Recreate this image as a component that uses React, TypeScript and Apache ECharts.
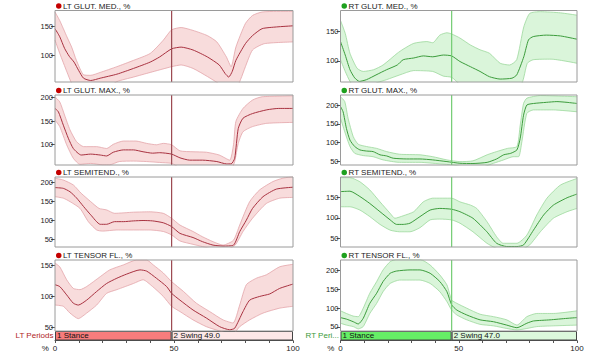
import React, { useEffect, useRef } from "react";
import * as echarts from "echarts";

// ---------- data ----------
const ltTitles = ["LT GLUT. MED., %", "LT GLUT. MAX., %", "LT SEMITEND., %", "LT TENSOR FL., %"];
const rtTitles = ["RT GLUT. MED., %", "RT GLUT. MAX., %", "RT SEMITEND., %", "RT TENSOR FL., %"];
const ltStanceEnd = 49.0;
const rtStanceEnd = 47.0;
const ltPeriodLabel = "LT Periods";
const rtPeriodLabel = "RT Peri...";
const xTickLabels = [0, 50, 100];

const ltYMin = [53.4, 55.6, 29, 44];
const ltYMax = [177.6, 205.8, 214, 159];
const ltYTicks = [[100, 150], [100, 150, 200], [50, 100, 150, 200], [50, 100, 150]];
const rtYMin = [64, 41, 28.9, 39.3];
const rtYMax = [186, 226.5, 199.6, 228.4];
const rtYTicks = [[100, 150], [50, 100, 150, 200], [50, 100, 150], [50, 100, 150, 200]];

// LT GLUT. MED.
const ltGlutMedMean = [[0,146],[2,132],[4,112],[6,98],[8,88],[10,73],[12,60],[15,56],[19,60],[26,67],[33,77],[40,88],[44,97],[49,111],[53,114],[58,109],[64,97],[69,83],[71.5,68],[73,62],[74.5,72],[76,91],[80,120],[83,134],[87,146],[93,149],[100,151]];
const ltGlutMedUpper = [[0,175],[2,160],[5,132],[7,114],[9,91],[12,66],[15,65],[19,70],[26,80],[33,91],[40,103],[45.5,126],[49,144],[53,148],[58,143],[64,134],[68,123],[72,97],[74,80],[76,114],[80,155],[83,169],[87,175],[93,176],[100,176]];
const ltGlutMedLower = [[0,126],[2,103],[5,71],[7,51],[9,40],[15,30],[20,38],[26,54],[33,62],[40,70],[49,80],[53,83],[58,77],[64,63],[69,50],[72,40],[76,42],[78,58],[80,80],[83,109],[88,120],[100,123]];
// RT GLUT. MED.
const rtGlutMedMean = [[0,133],[2,110],[4,85],[6,71],[8,65],[11,68],[15,76],[19.5,85],[24,93],[26.5,102],[31,105],[35,108.5],[39,107],[43.5,110],[47,108.5],[50.5,99],[55,90],[59,82],[63,73],[67.5,69],[72.5,70.5],[74.5,76],[77.5,107],[79.5,136],[81.5,141.5],[87,144],[93,142.6],[100,137]];
const rtGlutMedUpper = [[0,169],[2,147],[4,113],[7,87.5],[9.6,82],[14,85],[18,93],[24,113],[26.5,120],[31,130],[36.5,133],[39,131],[42,144],[45,148],[47,146],[50.5,139],[55,127],[59,119],[63,113],[67.5,96],[71.5,93],[74.5,102],[77.5,158],[80,181],[84.5,184],[93,182],[100,178]];
const rtGlutMedLower = [[0,102],[2,82],[4,65],[6,55],[10,52],[15,62],[19.5,68],[25,76],[31,83.5],[39,82],[43.5,74],[47,72],[50.5,60],[55,52],[65,48],[72,50],[76.7,62],[79,96],[81.5,102],[89,103],[100,96]];
// LT GLUT. MAX.
const ltGlutMaxMean = [[0,177],[1.4,170],[3.5,141],[5.6,113],[7.7,91],[11,77],[15,79],[19,77],[21.7,75],[24.5,83],[28.7,88],[33,88],[37,84],[41,81],[44,82],[49,79],[52.5,71],[56.6,66],[62,66],[68,63],[72,58],[74,58],[75.5,70],[77,134],[79,156],[83,166],[89,174],[94,177],[100,177]];
const ltGlutMaxUpper = [[0,202],[2,191],[4,163],[6.3,131],[9,106],[12,95],[17.5,95],[21.7,91],[24.5,100],[28.7,107],[34,107],[38.5,102],[42.6,99],[45.5,102],[49,99],[52.5,86],[58,84],[63.6,83],[69,77],[73.4,66],[75,99],[76,149],[79,177],[83,195],[87,202],[100,204]];
const ltGlutMaxLower = [[0,152],[2,138],[4.9,99],[7.7,70],[10.5,57],[15,59],[20,56],[23,56],[27,63],[33,64],[38.5,63],[44,61],[49,59],[52.5,50],[60,45],[70,44],[74,46],[75.5,63],[77,102],[79,127],[83,138],[89,145],[100,147]];
// RT GLUT. MAX.
const rtGlutMaxMean = [[0,196],[1.1,182],[2.5,138],[4,107],[6,90],[8.2,81],[11,78],[13.8,76.5],[16.7,68],[19.5,65],[22.3,59],[28,57],[33.6,57],[39,54.5],[45,50],[50.5,45.6],[56,45],[62,48],[66,57],[69,68],[72,72],[74.6,81],[76,112],[77.4,173],[78.8,200],[81.6,204],[87,207],[91.5,209],[95.8,207],[100,204]];
const rtGlutMaxUpper = [[0,222],[1.8,209],[3.2,165],[5.4,116],[7.5,96],[11,90],[15.3,85],[19.5,76.5],[25,69.5],[33.6,68],[39,63],[45,54.5],[50.5,50],[56,52],[62,68],[66,76.5],[70.6,85],[74.6,90],[76,147],[77.4,204],[78.8,218],[84.5,225],[100,222]];
const rtGlutMaxLower = [[0,165],[1.8,129],[4,90],[6,72],[9.6,66],[13.8,63],[18,54.5],[25,48],[33.6,48],[42,44],[47.7,41],[52,36],[60,36],[64.7,45.6],[69,54.5],[73,63],[75.3,63],[76.7,103],[78.8,178],[81.6,187],[90,187],[100,182]];
// LT SEMITEND.
const ltSemitendMean = [[0,186],[3.5,184],[6.3,175],[9,159],[12,136],[15,114],[19,89],[21.7,89],[25,96],[28.7,96],[33,98],[37,99],[41,98],[45.5,93],[49,83],[52.5,65],[58,54],[62,43],[66.4,34],[70.6,31.5],[75,34],[77.6,69.5],[80.4,100],[83,131],[87.4,162],[93,182],[100,187]];
const ltSemitendUpper = [[0,211],[3.5,206],[7.7,193],[11,171],[15,149],[18.5,131],[21.7,127],[25,118],[33,121],[40,122],[45.5,118],[49,105],[52.5,87],[58,70],[62,56],[66.4,43],[70.6,34],[75,47],[77.6,87],[81.8,149],[86,180],[91.6,202],[95.8,211],[100,215]];
const ltSemitendLower = [[0,162],[3.5,158],[6.3,149],[10.5,131],[14,96],[17.5,74],[20,71],[26,74],[33,74],[40,74],[45.5,70],[49,61],[52.5,45],[58,36],[62,30],[66,24],[72,22],[75.7,34],[79,70],[83,105],[88.8,144],[94.4,158],[100,160]];
// RT SEMITEND.
const rtSemitendMean = [[0,164],[4,165],[8.2,152],[12.4,135],[16.7,115],[21,95],[23.7,84],[26.5,84],[29.4,87],[33.6,103],[37.9,119],[42,123],[47,121],[50.5,115],[56,99],[61.9,66],[66,38],[70.3,30],[74.6,30],[77.4,34],[81.6,70],[85.9,107],[90,131],[95.8,149],[100,158]];
const rtSemitendUpper = [[0,198],[4,198],[8.2,188],[12.4,168],[16.7,139],[21,111],[23,99],[26.5,105],[31,115],[35,139],[39,148],[47,148],[50.5,139],[55,131],[57.6,123],[61.9,91],[66,54],[68.8,38],[74.6,38],[78.8,58],[83,107],[87.3,148],[93,180],[100,196]];
const rtSemitendLower = [[0,127],[4,127],[8.2,119],[12.4,103],[16.7,84],[21,70],[25,66],[29.4,66],[33.6,76],[37.9,95],[42,97],[47,95],[50.5,87],[56,66],[61.9,38],[64.7,29],[68,22],[76,22],[80,34],[84.5,66],[90,99],[95.8,115],[100,123]];
// LT TENSOR FL.
const ltTensorMean = [[0,119],[2,116],[4.9,102.5],[7.7,89],[9.8,86],[13.3,94],[17.5,108],[21.7,121],[26,129.5],[30,136],[35.7,143],[38.5,141],[42.6,129.5],[46.9,116],[49,105],[52.5,94],[58,78],[63.6,65],[69.2,51],[73.4,46],[75.5,48.5],[79,75.5],[81.8,94],[86,100],[90.2,104],[94.4,113],[100,120]];
const ltTensorUpper = [[0,154],[2,148],[4.9,127],[7.7,113],[10.5,111],[13.3,116],[19,132],[23,143],[28.7,151],[34.3,159],[38.5,159],[41.3,151],[45.5,138],[49,124],[54,108],[59.4,89],[65,75.5],[70.6,62],[74.8,57],[77.6,86],[80.4,119],[84.6,129.5],[88.8,135],[94.4,148],[100,152]];
const ltTensorLower = [[0,86],[3.5,84],[6.3,73],[9.8,64],[13.3,73],[17.5,86],[21.7,105],[26,111],[33,121],[37,127],[41,116],[45.5,100],[49,84],[52.5,75.5],[58,62],[63.6,51],[69.2,44],[73,40],[75,40],[77.6,51],[81.8,62],[87.4,73],[94.4,81],[100,84]];
// RT TENSOR FL.
const rtTensorMean = [[0,75],[2.5,71],[5.4,64],[7.5,58],[9.6,73],[12.4,113],[15.3,140],[18,171],[21,193],[23.7,199],[29.4,202],[33.6,202],[37.9,193],[42,171],[45,144],[47,109],[49.2,95],[53.4,82],[59,69],[64.7,64],[70.3,55],[74.6,48],[78.8,60],[81.6,66],[88.6,69],[95.8,73],[100,75]];
const rtTensorUpper = [[0,93],[2.5,86],[5.4,79],[7.5,77.5],[9.6,100],[12.4,140],[15.3,171],[18,202],[21,224],[23.7,230],[33.6,230],[37.9,215],[42,188.5],[45,162],[47,122],[49.2,113],[53.4,100],[59,84],[64.7,77.5],[70.3,69],[74.6,55],[78.8,77.5],[83,86],[90,86],[100,93]];
const rtTensorLower = [[0,60],[2.5,55],[5.4,51],[7.5,45],[9.6,51],[12.4,86],[15.3,113],[18,144],[21,166],[25,175],[33.6,175],[37.9,166],[42,144],[45,117.5],[47,95],[49.2,82],[53.4,69],[59,57],[64.7,53],[70.3,46],[74.6,42],[78.8,46],[83,51],[90,53],[100,55]];

const ltMeans = [ltGlutMedMean, ltGlutMaxMean, ltSemitendMean, ltTensorMean];
const ltUppers = [ltGlutMedUpper, ltGlutMaxUpper, ltSemitendUpper, ltTensorUpper];
const ltLowers = [ltGlutMedLower, ltGlutMaxLower, ltSemitendLower, ltTensorLower];
const rtMeans = [rtGlutMedMean, rtGlutMaxMean, rtSemitendMean, rtTensorMean];
const rtUppers = [rtGlutMedUpper, rtGlutMaxUpper, rtSemitendUpper, rtTensorUpper];
const rtLowers = [rtGlutMedLower, rtGlutMaxLower, rtSemitendLower, rtTensorLower];

// ---------- layout & style ----------
const FONT = "Arial, 'Liberation Sans', sans-serif";
const rowTops = [10.5, 95, 177, 260];
const rowHeights = [71.5, 70, 70, 71];
const colLefts = [55, 340.5];
const colWidths = [238, 236.5];
const periodHeight = 9.5;

const sides = [
  {
    titles: ltTitles, means: ltMeans, uppers: ltUppers, lowers: ltLowers,
    yMin: ltYMin, yMax: ltYMax, yTicks: ltYTicks, stanceEnd: ltStanceEnd, periodLabel: ltPeriodLabel,
    mean: "#a83240", edge: "#e3a5aa", fill: "#f8dcdc", stanceLine: "#9c4850", dot: "#c40000",
    periodText: "#b01e1e", stanceFill: "#f77c7c", swingFill: "#fde8e8",
  },
  {
    titles: rtTitles, means: rtMeans, uppers: rtUppers, lowers: rtLowers,
    yMin: rtYMin, yMax: rtYMax, yTicks: rtYTicks, stanceEnd: rtStanceEnd, periodLabel: rtPeriodLabel,
    mean: "#3c9c3c", edge: "#9cd89c", fill: "#daf5da", stanceLine: "#72cc72", dot: "#1ea01e",
    periodText: "#3a9a3a", stanceFill: "#66ee66", swingFill: "#dcf8dc",
  },
];

function buildOption() {
  const grid: any[] = [];
  const xAxis: any[] = [];
  const yAxis: any[] = [];
  const series: any[] = [];
  const title: any[] = [];

  sides.forEach((s, c) => {
    for (let r = 0; r < 4; r++) {
      const idx = grid.length;
      grid.push({
        left: colLefts[c], top: rowTops[r], width: colWidths[c], height: rowHeights[r],
        show: true, borderColor: "#9a9a9a", borderWidth: 1, backgroundColor: "transparent", z: 10,
        containLabel: false, outerBoundsMode: "none",
      });
      xAxis.push({ gridIndex: idx, type: "value", min: 0, max: 100, show: false });
      yAxis.push({
        gridIndex: idx, type: "value", min: s.yMin[r], max: s.yMax[r],
        axisLine: { show: false }, splitLine: { show: false },
        axisTick: { show: true, length: 4, customValues: s.yTicks[r], lineStyle: { color: "#555" } },
        axisLabel: { customValues: s.yTicks[r], fontSize: 7.5, color: "#222", margin: 2, fontFamily: FONT },
      });
      title.push({
        left: colLefts[c] + 1, top: rowTops[r] - 9, padding: 0,
        text: `{d|}{t|${s.titles[r]}}`,
        textStyle: {
          fontWeight: "normal",
          rich: {
            d: { width: 5.5, height: 5.5, borderRadius: 3, backgroundColor: s.dot },
            t: { fontSize: 8, fontWeight: "normal", color: "#222", fontFamily: FONT, padding: [0, 0, 0, 1.5], lineHeight: 9 },
          },
        },
      });
      series.push({
        type: "line", xAxisIndex: idx, yAxisIndex: idx, data: s.uppers[r], symbol: "none", smooth: 0.2,
        lineStyle: { color: s.edge, width: 0.8 }, areaStyle: { color: s.fill, opacity: 1, origin: "start" },
        z: 1, silent: true,
      });
      series.push({
        type: "line", xAxisIndex: idx, yAxisIndex: idx, data: s.lowers[r], symbol: "none", smooth: 0.2,
        lineStyle: { color: s.edge, width: 0.8 }, areaStyle: { color: "#ffffff", opacity: 1, origin: "start" },
        z: 2, silent: true,
      });
      series.push({
        type: "line", xAxisIndex: idx, yAxisIndex: idx, data: s.means[r], symbol: "none", smooth: 0.2,
        lineStyle: { color: s.mean, width: 1 }, z: 3, silent: true,
      });
      // stance boundary line
      series.push({
        type: "line", xAxisIndex: idx, yAxisIndex: idx, symbol: "none", silent: true, z: 4,
        data: [[s.stanceEnd, s.yMin[r]], [s.stanceEnd, s.yMax[r]]],
        lineStyle: { color: s.stanceLine, width: 1.2 },
      });
    }
  });

  // period bars
  sides.forEach((s, c) => {
    const idx = grid.length;
    grid.push({
      left: colLefts[c], top: rowTops[3] + rowHeights[3], width: colWidths[c], height: periodHeight,
      show: false, containLabel: false, outerBoundsMode: "none",
    });
    xAxis.push({
      gridIndex: idx, type: "value", min: 0, max: 100, interval: 10,
      axisLine: { show: true, lineStyle: { color: "#555" } },
      axisTick: { show: true, length: 2.5, lineStyle: { color: "#555" } },
      splitLine: { show: false },
      axisLabel: {
        fontSize: 8, color: "#222", margin: 4, fontFamily: FONT,
        formatter: (v: number) => (xTickLabels.indexOf(v) >= 0 ? String(v) : ""),
      },
      name: "%", nameLocation: "start", nameGap: 1,
      nameTextStyle: { fontSize: 8, color: "#222", fontFamily: FONT, verticalAlign: "top", padding: [4, 0, 0, 0] },
    });
    yAxis.push({
      gridIndex: idx, type: "category", data: [s.periodLabel],
      axisLine: { show: false }, axisTick: { show: false },
      axisLabel: { color: s.periodText, fontSize: 8, margin: 1.5, fontFamily: FONT },
    });
    series.push({
      type: "bar", xAxisIndex: idx, yAxisIndex: idx, stack: "p" + c, data: [s.stanceEnd],
      barWidth: "100%", silent: true,
      itemStyle: { color: s.stanceFill, borderColor: "#444", borderWidth: 1 },
      label: { show: true, position: "insideLeft", distance: 2, formatter: "1 Stance", fontSize: 8, color: "#111", fontFamily: FONT },
    });
    series.push({
      type: "bar", xAxisIndex: idx, yAxisIndex: idx, stack: "p" + c, data: [100 - s.stanceEnd],
      barWidth: "100%", silent: true,
      itemStyle: { color: s.swingFill, borderColor: "#444", borderWidth: 1 },
      label: {
        show: true, position: "insideLeft", distance: 2, formatter: `2 Swing ${s.stanceEnd.toFixed(1)}`,
        fontSize: 8, color: "#111", fontFamily: FONT,
      },
    });
  });

  return { animation: false, backgroundColor: "#ffffff", title, grid, xAxis, yAxis, series };
}

export default function App() {
  const ref = useRef<HTMLDivElement>(null);
  useEffect(() => {
    if (!ref.current) return;
    const chart = echarts.init(ref.current, null, { renderer: "svg" });
    chart.setOption(buildOption() as any);
    return () => chart.dispose();
  }, []);
  return (
    <div
      ref={ref}
      style={{ position: "absolute", left: 0, top: 0, width: 600, height: 357, background: "#fff" }}
    />
  );
}
